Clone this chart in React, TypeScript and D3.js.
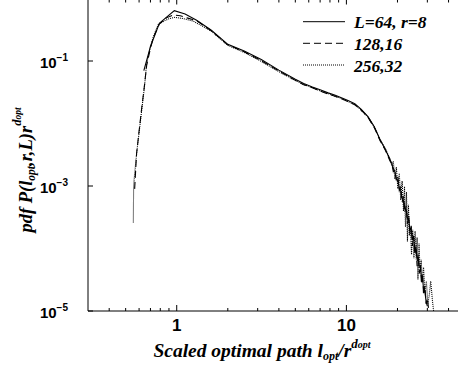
import React from "react";
import * as d3 from "d3";

// ---- data ----
const solidX = [0.64, 0.7, 0.79, 0.968, 1.12, 1.31, 1.6, 2.0, 2.5, 3.15, 4.0, 5.0, 5.6, 6.3, 7.0, 7.8, 8.6, 9.5, 10.3, 11.2, 12.2, 13.4, 14.6, 15.8, 17.0,
  18.1, 18.5, 18.9, 19.3, 19.7, 20.1, 20.5, 20.9, 21.3, 21.7, 22.1, 22.5, 22.9, 23.3, 23.7, 24.1, 24.5, 24.9, 25.3, 25.7, 26.1, 26.5, 26.9, 27.3, 27.7, 28.1, 28.5, 29.0, 29.5, 30.0];
const solidY = [0.07, 0.17, 0.40, 0.64, 0.565, 0.45, 0.31, 0.185, 0.145, 0.106, 0.0715, 0.051, 0.0438, 0.0385, 0.0346, 0.0309, 0.0283, 0.0254, 0.0231, 0.0208, 0.017, 0.0129, 0.0089, 0.0055, 0.0038,
  0.0026, 0.0023, 0.0019, 0.0017, 0.0013, 0.0012, 0.00093, 0.00085, 0.00064, 0.00058, 0.00043, 0.00042, 0.0003, 0.00029, 0.0002, 0.00021, 0.00014, 0.00015, 0.0001, 0.0001, 0.00007, 0.000072, 0.00005, 0.00005, 0.000034, 0.000034, 0.000022, 0.000021, 0.000014, 0.000012];

const dashedX = [0.565, 0.58, 0.6, 0.62, 0.645, 0.665, 0.7, 0.73, 0.79, 0.87, 0.955, 1.05, 1.15, 1.31, 1.6, 2.0, 2.5, 3.15, 4.0, 5.0, 5.6, 6.3, 7.0, 7.8, 8.6, 9.5, 10.3, 11.2, 12.2, 13.4, 14.6, 15.8, 17.0,
  18.1, 18.5, 18.9, 19.3, 19.7, 20.1, 20.5, 20.9, 21.3, 21.7, 22.1, 22.5, 22.9, 23.3, 23.7, 24.1, 24.5, 24.9, 25.3, 25.7, 26.1, 26.5, 26.9, 27.3, 27.7, 28.1, 28.5, 29.0, 29.5, 30.0, 30.6, 31.0];
const dashedY = [0.0009, 0.0033, 0.0075, 0.0165, 0.04, 0.085, 0.16, 0.24, 0.39, 0.49, 0.545, 0.53, 0.49, 0.44, 0.305, 0.181, 0.140, 0.101, 0.069, 0.049, 0.0418, 0.0372, 0.0331, 0.0296, 0.0272, 0.0244, 0.0222, 0.0199, 0.0165, 0.0126, 0.0086, 0.0053, 0.0037,
  0.0025, 0.0023, 0.0017, 0.0018, 0.0012, 0.0014, 0.00085, 0.00095, 0.00055, 0.00068, 0.00038, 0.00048, 0.00025, 0.00034, 0.00017, 0.00023, 0.00011, 0.00016, 0.00008, 0.00011, 0.000052, 0.00008, 0.00004, 0.000055, 0.000027, 0.00004, 0.000018, 0.000025, 0.000013, 0.000016, 0.00001, 0.000008];

const dottedX = [0.555, 0.557, 0.56, 0.58, 0.6, 0.622, 0.645, 0.665, 0.7, 0.728, 0.78, 0.89, 0.977, 1.1, 1.25, 1.6, 2.0, 2.5, 3.15, 4.0, 5.0, 5.6, 6.3, 7.0, 7.8, 8.6, 9.5, 10.3, 11.2, 12.2, 13.4, 14.6, 15.8, 17.0, 18.1,
  18.5, 18.9, 19.3, 19.7, 20.1, 20.5, 20.9, 21.3, 21.7, 22.0, 22.3, 22.6, 22.9, 23.2, 23.5, 23.8, 24.2, 24.6, 25.0, 25.4, 25.8, 26.1, 26.4, 26.8, 27.2, 27.6, 28.0, 28.5, 29.0, 29.6, 30.2, 30.8, 31.4, 32.2, 32.8];
const dottedY = [0.00026, 0.0009, 0.0012, 0.0033, 0.0072, 0.0165, 0.038, 0.092, 0.17, 0.245, 0.39, 0.47, 0.50, 0.475, 0.436, 0.30, 0.178, 0.137, 0.099, 0.0675, 0.0488, 0.0422, 0.0375, 0.0332, 0.0301, 0.0271, 0.0249, 0.0221, 0.0204, 0.0163, 0.0127, 0.0088, 0.0055, 0.0039, 0.0027,
  0.0021, 0.0025, 0.0013, 0.0020, 0.0009, 0.0016, 0.0006, 0.0012, 0.0004, 0.00098, 0.00022, 0.0008, 0.00013, 0.0005, 0.00016, 0.00021, 0.00008, 0.0002, 0.00007, 0.00019, 0.000066, 0.00015, 0.000032, 0.00012, 0.00004, 0.000066, 0.00003, 0.00005, 0.00002, 0.00003, 0.000013, 0.000018, 0.00003, 0.000014, 0.000009];

const seriesNames = ["L=64, r=8", "128,16", "256,32"];
const xMajorTicks = [1, 10];
const xMinorTicks = [0.4, 0.5, 0.6, 0.7, 0.8, 0.9, 2, 3, 4, 5, 6, 7, 8, 9, 20, 30, 40];
const yTickExps = [-1, -3, -5];

const W = 458, H = 377;
const M = { left: 88, top: -1.5, right: 465, bottom: 311 };
const SERIF = "'Liberation Serif', 'Times New Roman', serif";
const SANS = "'Liberation Sans', Arial, Helvetica, sans-serif";

export default function App() {
  const x = d3.scaleLog().domain([0.3, 50]).range([M.left, M.right]);
  const y = d3.scaleLog().domain([1e-5, 1]).range([M.bottom, M.top]);
  const line = d3.line<[number, number]>().x(d => x(d[0])).y(d => y(d[1]));
  const pts = (xs: number[], ys: number[]) => xs.map((v, i) => [v, ys[i]] as [number, number]);
  const series = [
    { name: seriesNames[0], d: pts(solidX, solidY), dash: undefined as string | undefined },
    { name: seriesNames[1], d: pts(dashedX, dashedY), dash: "7,4" },
    { name: seriesNames[2], d: pts(dottedX, dottedY), dash: "1,1" },
  ];
  const legendY = [21.7, 43.3, 65];
  return (
    <svg width={W} height={H} style={{ position: "absolute", left: 0, top: 0, background: "#fff" }}>
      <defs>
        <clipPath id="plot"><rect x={M.left} y={0} width={M.right - M.left} height={M.bottom} /></clipPath>
      </defs>
      <rect x={0} y={0} width={W} height={H} fill="#fff" />
      {/* curves */}
      <g clipPath="url(#plot)" fill="none" stroke="#000" strokeWidth={1.1}>
        {series.map((s, i) => (
          <path key={i} d={line(s.d) || ""} strokeDasharray={s.dash} />
        ))}
      </g>
      {/* axes */}
      <g stroke="#000" strokeWidth={1} fill="none">
        <line x1={M.left} x2={M.left} y1={M.top} y2={M.bottom} />
        <line x1={M.left} x2={M.right} y1={M.bottom} y2={M.bottom} />
        <line x1={M.left} x2={M.right} y1={M.top} y2={M.top} />
        {xMajorTicks.map(t => (
          <g key={"M" + t}>
            <line x1={x(t)} x2={x(t)} y1={M.bottom} y2={M.bottom - 6} />
            <line x1={x(t)} x2={x(t)} y1={M.top} y2={M.top + 6} />
          </g>
        ))}
        {xMinorTicks.map(t => (
          <g key={"m" + t}>
            <line x1={x(t)} x2={x(t)} y1={M.bottom} y2={M.bottom - 3} />
            <line x1={x(t)} x2={x(t)} y1={M.top} y2={M.top + 4} />
          </g>
        ))}
        {yTickExps.map(e => (
          <line key={e} x1={M.left} x2={M.left + 5} y1={y(Math.pow(10, e))} y2={y(Math.pow(10, e))} />
        ))}
      </g>
      {/* tick labels */}
      <g fontFamily={SANS} fontWeight="bold" fill="#000">
        {xMajorTicks.map(t => (
          <text key={t} x={x(t)} y={331} fontSize={17} textAnchor="middle">{t}</text>
        ))}
        {yTickExps.map(e => (
          <text key={e} x={68} y={y(Math.pow(10, e)) + 6.5} fontSize={15} textAnchor="end">
            10<tspan fontSize={10} dy={-6.5}>{"\u2212" + Math.abs(e)}</tspan>
          </text>
        ))}
      </g>
      {/* axis titles */}
      <g fontFamily={SERIF} fontWeight="bold" fontStyle="italic" fill="#000">
        <text x={262} y={357} fontSize={19.5} textAnchor="middle">
          Scaled optimal path l<tspan fontSize={12} dy={3}>opt</tspan>
          <tspan fontSize={19.5} dy={-3}>/r</tspan>
          <tspan fontSize={13} dy={-9}>d</tspan>
          <tspan fontSize={10}>opt</tspan>
        </text>
        <text transform="translate(32,170) rotate(-90)" fontSize={18.5} textAnchor="middle">
          pdf P(l<tspan fontSize={11.5} dy={3}>opt</tspan>
          <tspan fontSize={18.5} dy={-3}>,r,L)r</tspan>
          <tspan fontSize={12.5} dy={-11}>d</tspan>
          <tspan fontSize={9.5}>opt</tspan>
        </text>
      </g>
      {/* legend */}
      <g>
        {series.map((s, i) => (
          <g key={i}>
            <line x1={303} x2={345} y1={legendY[i]} y2={legendY[i]} stroke="#000" strokeWidth={1} strokeDasharray={s.dash} />
            <text x={354} y={legendY[i] + 6.5} fontFamily={SERIF} fontWeight="bold" fontStyle="italic" fontSize={17.5}>{s.name}</text>
          </g>
        ))}
      </g>
    </svg>
  );
}
